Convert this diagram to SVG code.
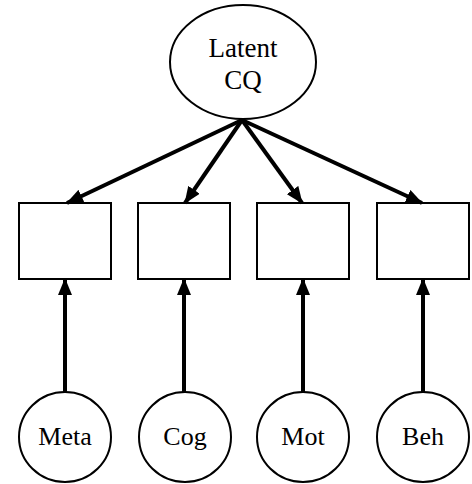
<svg xmlns="http://www.w3.org/2000/svg" width="472" height="484" viewBox="0 0 472 484">
<style>
.shape{fill:#fff;stroke:#000;stroke-width:2}
.lbl{font-family:"Liberation Serif","Times New Roman",serif;font-size:26px;fill:#000;text-anchor:middle}
.edge{stroke:#000;stroke-width:4;fill:none;marker-end:url(#ah)}
</style>
<defs>
<marker id="ah" markerUnits="userSpaceOnUse" markerWidth="17" markerHeight="14" refX="16" refY="7" orient="auto">
<path d="M0,0 L17,7 L0,14 Z" fill="#000"/>
</marker>
</defs>
<rect width="472" height="484" fill="#fff"/>
<g id="latent">
<ellipse class="shape" cx="243" cy="62" rx="73" ry="57"/>
<text class="lbl" x="243" y="57" style="font-size:27px">Latent</text>
<text class="lbl" x="243" y="89" style="font-size:27px">CQ</text>
</g>
<g id="box1"><rect class="shape" x="19" y="203" width="92" height="76"/></g>
<g id="box2"><rect class="shape" x="138" y="203" width="92" height="76"/></g>
<g id="box3"><rect class="shape" x="257" y="203" width="92" height="76"/></g>
<g id="box4"><rect class="shape" x="377" y="203" width="92" height="76"/></g>
<g id="meta"><ellipse class="shape" cx="65" cy="437" rx="46" ry="45"/><text class="lbl" x="65" y="445">Meta</text></g>
<g id="cog"><ellipse class="shape" cx="185" cy="437" rx="46" ry="45"/><text class="lbl" x="185" y="445">Cog</text></g>
<g id="mot"><ellipse class="shape" cx="303" cy="437" rx="46" ry="45"/><text class="lbl" x="303" y="445">Mot</text></g>
<g id="beh"><ellipse class="shape" cx="423" cy="437" rx="46" ry="45"/><text class="lbl" x="423" y="445">Beh</text></g>
<g id="connectors">
<line class="edge" x1="242" y1="120" x2="67" y2="203"/>
<line class="edge" x1="242" y1="120" x2="185" y2="203"/>
<line class="edge" x1="242" y1="120" x2="302" y2="203"/>
<line class="edge" x1="242" y1="120" x2="422" y2="203"/>
<line class="edge" x1="65" y1="392" x2="65" y2="279"/>
<line class="edge" x1="184" y1="392" x2="184" y2="279"/>
<line class="edge" x1="303" y1="392" x2="303" y2="279"/>
<line class="edge" x1="423" y1="392" x2="423" y2="279"/>
</g>
</svg>
